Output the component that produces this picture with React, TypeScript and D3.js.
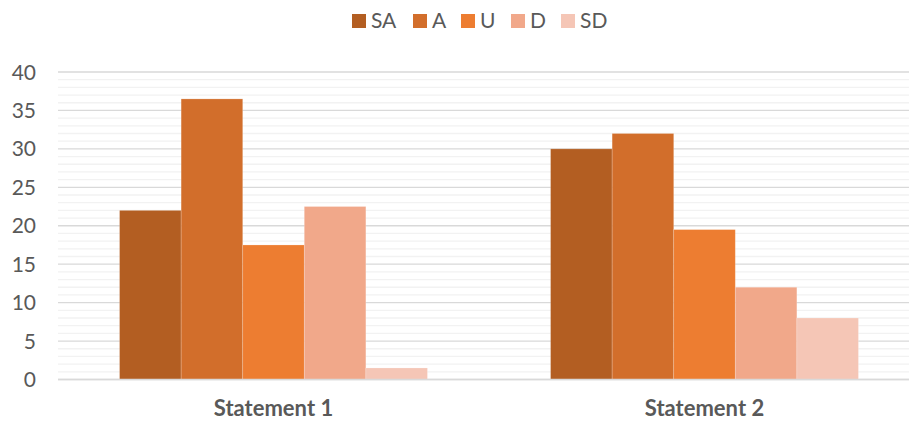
import React from "react";
import * as d3 from "d3";

const categories = ["Statement 1", "Statement 2"];
const seriesNames = ["SA", "A", "U", "D", "SD"];
const seriesValues: number[][] = [
  [22, 30],
  [36.5, 32],
  [17.5, 19.5],
  [22.5, 12],
  [1.5, 8],
];
const seriesColors = ["#B35E22", "#D26E2B", "#ED7D31", "#F1A88A", "#F5C6B6"];
const yTicks = [0, 5, 10, 15, 20, 25, 30, 35, 40];

const W = 909;
const H = 421;
const FONT = "Lato, 'Open Sans', sans-serif";

export default function App() {
  const x = d3
    .scaleBand<string>()
    .domain(categories)
    .range([58, 920])
    .paddingInner(2 / 7)
    .paddingOuter(1 / 7);
  const xs = d3
    .scaleBand<string>()
    .domain(seriesNames)
    .range([0, x.bandwidth()]);
  const y = d3.scaleLinear().domain([0, 40]).range([379.5, 72]);
  const minor = d3.range(0, 41, 1).filter((v) => v % 5 !== 0);

  const legendX = [352, 413, 461, 511, 561];

  return (
    <svg
      width={W}
      height={H}
      style={{ position: "absolute", left: 0, top: 0, background: "#fff" }}
    >
      {minor.map((v) => (
        <line
          key={"m" + v}
          x1={58}
          x2={W}
          y1={y(v)}
          y2={y(v)}
          stroke="#F2F2F2"
          strokeWidth={1.3}
        />
      ))}
      {yTicks.map((v) => (
        <line
          key={"g" + v}
          x1={58}
          x2={W}
          y1={y(v)}
          y2={y(v)}
          stroke="#D9D9D9"
          strokeWidth={1.3}
        />
      ))}
      {seriesNames.map((s, si) =>
        categories.map((c, ci) => {
          const v = seriesValues[si][ci];
          return (
            <rect
              key={s + c}
              x={(x(c) as number) + (xs(s) as number)}
              y={y(v)}
              width={xs.bandwidth()}
              height={y(0) - y(v)}
              fill={seriesColors[si]}
              stroke="#ffffff"
              strokeOpacity={0.25}
              strokeWidth={0.75}
            />
          );
        })
      )}
      <line x1={58} x2={W} y1={y(0)} y2={y(0)} stroke="#D9D9D9" strokeWidth={1.5} />
      {yTicks.map((v) => (
        <text
          key={"t" + v}
          x={36}
          y={y(v)}
          dy="0.36em"
          textAnchor="end"
          fontFamily={FONT}
          fontSize={21}
          fill="#595959"
        >
          {v}
        </text>
      ))}
      {categories.map((c) => (
        <text
          key={"c" + c}
          x={(x(c) as number) + x.bandwidth() / 2}
          y={416}
          textAnchor="middle"
          fontFamily={FONT}
          fontSize={22}
          fontWeight="bold"
          fill="#595959"
        >
          {c}
        </text>
      ))}
      {seriesNames.map((s, i) => (
        <g key={"l" + s}>
          <rect x={legendX[i]} y={14} width={14} height={14} fill={seriesColors[i]} />
          <text
            x={legendX[i] + 19}
            y={28}
            fontFamily={FONT}
            fontSize={21}
            fill="#595959"
          >
            {s}
          </text>
        </g>
      ))}
    </svg>
  );
}
